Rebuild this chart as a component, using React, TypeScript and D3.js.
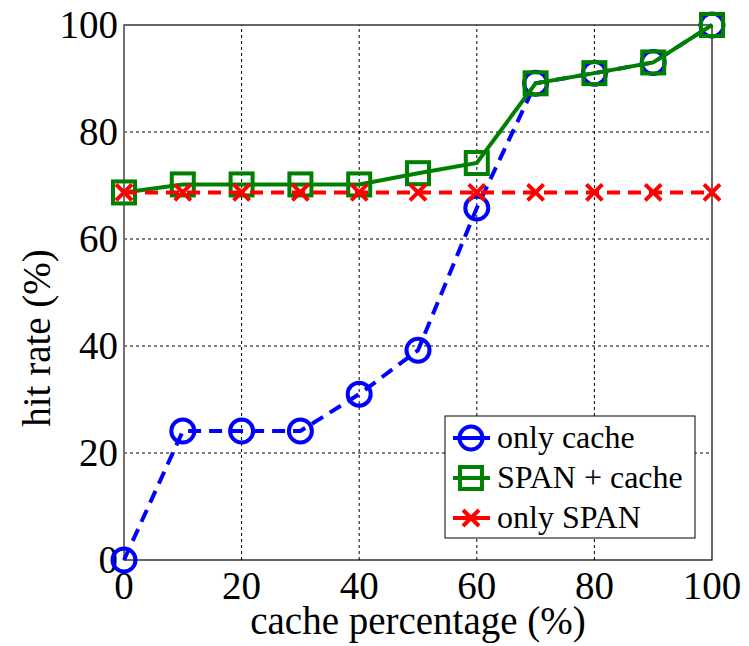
import React from 'react';
import * as d3 from 'd3';

const cachePct = [0, 10, 20, 30, 40, 50, 60, 70, 80, 90, 100];
const onlyCache = [0, 24.1, 24.1, 24.1, 31, 39.2, 65.8, 89.1, 91, 93, 100];
const spanCache = [68.7, 70.2, 70.2, 70.2, 70.2, 72.3, 74.2, 89.1, 91, 93, 100];
const onlySpan = [68.7, 68.7, 68.7, 68.7, 68.7, 68.7, 68.7, 68.7, 68.7, 68.7, 68.7];
const xTicks = [0, 20, 40, 60, 80, 100];
const yTicks = [0, 20, 40, 60, 80, 100];
const seriesNames = ['only cache', 'SPAN + cache', 'only SPAN'];

const width = 749;
const height = 646;
const margin = { top: 25, right: 37, bottom: 86, left: 124 };
const font = 'Liberation Serif';

const x = d3.scaleLinear().domain([0, 100]).range([margin.left, width - margin.right]);
const y = d3.scaleLinear().domain([0, 100]).range([height - margin.bottom, margin.top]);
const line = d3.line<number>().x((_, i) => x(cachePct[i])).y(d => y(d));

const BLUE = '#0000ff';
const GREEN = '#008000';
const RED = '#ff0000';

function Circle({ cx, cy }: { cx: number; cy: number }) {
    return <circle cx={cx} cy={cy} r={11.5} fill="none" stroke={BLUE} strokeWidth={4} />;
}
function Square({ cx, cy }: { cx: number; cy: number }) {
    return <rect x={cx - 11} y={cy - 11} width={22} height={22} fill="none" stroke={GREEN} strokeWidth={4} />;
}
function Cross({ cx, cy }: { cx: number; cy: number }) {
    const s = 8;
    return (
        <path
            d={`M${cx - s},${cy - s}L${cx + s},${cy + s}M${cx - s},${cy + s}L${cx + s},${cy - s}`}
            stroke={RED}
            strokeWidth={4}
            fill="none"
        />
    );
}

const markers = [Circle, Square, Cross];
const colors = [BLUE, GREEN, RED];

function App() {
    return (
        <svg
            width={width}
            height={height}
            style={{ position: 'absolute', left: 0, top: 0, background: '#fff', fontFamily: font }}
        >
            {/* grid */}
            {xTicks.slice(1, -1).map(t => (
                <line key={'gx' + t} x1={x(t)} x2={x(t)} y1={y(0)} y2={y(100)} stroke="#000" strokeWidth={1} strokeDasharray="3,3" />
            ))}
            {yTicks.slice(1, -1).map(t => (
                <line key={'gy' + t} x1={x(0)} x2={x(100)} y1={y(t)} y2={y(t)} stroke="#000" strokeWidth={1} strokeDasharray="3,3" />
            ))}

            {/* frame */}
            <rect x={x(0)} y={y(100)} width={x(100) - x(0)} height={y(0) - y(100)} fill="none" stroke="#000" strokeWidth={1.2} />
            <line x1={x(0)} x2={x(0)} y1={y(0)} y2={y(100)} stroke="#777" strokeWidth={1.5} />

            {/* tick labels */}
            {xTicks.map(t => (
                <text key={'tx' + t} x={x(t)} y={y(0) + 39} textAnchor="middle" style={{ fontFamily: font, fontSize: 39 }}>{t}</text>
            ))}
            {yTicks.map(t => (
                <text key={'ty' + t} x={x(0) - 6} y={y(t) + 13} textAnchor="end" style={{ fontFamily: font, fontSize: 39 }}>{t}</text>
            ))}

            {/* axis titles */}
            <text x={(x(0) + x(100)) / 2} y={634} textAnchor="middle" style={{ fontFamily: font, fontSize: 39 }}>cache percentage (%)</text>
            <text transform="translate(50,338) rotate(-90)" textAnchor="middle" style={{ fontFamily: font, fontSize: 39 }}>hit rate (%)</text>

            {/* only cache */}
            <path d={line(onlyCache) || ''} fill="none" stroke={BLUE} strokeWidth={4} strokeDasharray="13,8" />
            {onlyCache.map((v, i) => <Circle key={'c' + i} cx={x(cachePct[i])} cy={y(v)} />)}

            {/* SPAN + cache */}
            <path d={line(spanCache) || ''} fill="none" stroke={GREEN} strokeWidth={4} />
            {spanCache.map((v, i) => <Square key={'s' + i} cx={x(cachePct[i])} cy={y(v)} />)}

            {/* only SPAN */}
            <path d={line(onlySpan) || ''} fill="none" stroke={RED} strokeWidth={4} strokeDasharray="13,8" />
            {onlySpan.map((v, i) => <Cross key={'x' + i} cx={x(cachePct[i])} cy={y(v)} />)}

            {/* legend */}
            <rect x={445} y={416} width={250} height={122} fill="#fff" stroke="#000" strokeWidth={1} />
            {seriesNames.map((name, i) => {
                const cy = 438 + i * 40;
                const Marker = markers[i];
                return (
                    <g key={name}>
                        <line x1={453} x2={490} y1={cy} y2={cy} stroke={colors[i]} strokeWidth={4} />
                        <Marker cx={471} cy={cy} />
                        <text x={497} y={cy + 10} style={{ fontFamily: font, fontSize: 32 }}>{name}</text>
                    </g>
                );
            })}
        </svg>
    );
}

export default App;
